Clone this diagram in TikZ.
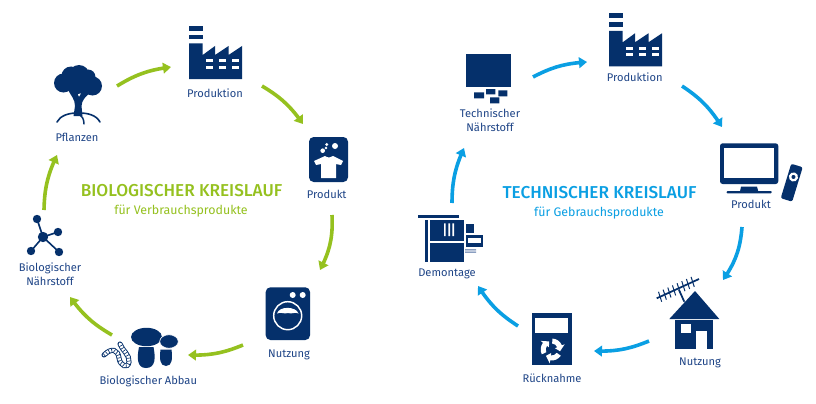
\documentclass[tikz,border=0pt]{standalone}
\usepackage{fontspec}
\usetikzlibrary{arrows.meta,bending,calc}
\setmainfont{Fira Sans}
\newfontfamily\medfont{Fira Sans Medium}
\definecolor{navy}{HTML}{05306B}
\definecolor{lab}{HTML}{1F4587}
\definecolor{grn}{HTML}{95C11F}
\definecolor{cyn}{HTML}{0A9FE3}
\tikzset{
  lbl/.style={font=\fontsize{8.35}{10.6}\selectfont,text=lab,align=center,inner sep=0pt},
  ttl/.style={font=\medfont\fontsize{12.9}{15}\selectfont,inner sep=0pt},
  sub/.style={font=\fontsize{9.3}{11}\selectfont,inner sep=0pt},
  flow/.style={line width=2.7pt,-{Triangle[length=6pt,width=8pt,flex]}},
  grnflow/.style={flow,draw=grn},
  cynflow/.style={flow,draw=cyn},
  factory/.pic={
    \fill[navy] (0,0) rectangle (14,4.7);
    \fill[navy] (0,9) rectangle (14,13.3);
    \fill[navy] (0,17.5) -- (13.7,17.5) -- (13.7,29) -- (26,20) -- (26,29) -- (39.5,20) -- (39.5,29) -- (53,20) -- (53,53) -- (0,53) -- cycle;
    \foreach \c in {16.7,30,43.3}{
      \fill[white] (\c,33.3) rectangle ++(7,3);
      \fill[white] (\c,40) rectangle ++(7,3);
    }
  }
}
\begin{document}
\begin{tikzpicture}[x=.75pt,y=-.75pt]
\useasboundingbox[fill=white] (0,0) rectangle (816,403);

% ---------- left cycle: icons
\path pic at (189,26) {factory};
% tree
\fill[navy] (63.5,83) circle[radius=9.5] (71,76) circle[radius=9.5] (79,75.5) circle[radius=10.5]
  (88,77) circle[radius=7.5] (92.5,86) circle[radius=9.5] (78,83) circle[radius=11];
\fill[navy] (67,88) .. controls (71,96) and (75,99) .. (75,106) -- (73.5,116) -- (82.5,116) -- (81.5,106) .. controls (82,100) and (85,97) .. (91,92) -- (83,90) -- (79,97) -- (75,88) -- cycle;
\draw[navy,line width=1.2pt,line cap=round] (77,113) .. controls (68,113) and (60,116) .. (57,122);
\draw[navy,line width=1.2pt,line cap=round] (79,113) .. controls (88,113) and (96,115) .. (100,122);
\draw[navy,line width=1.1pt,line cap=round] (79,114) .. controls (82,116) and (84,119) .. (84,124);
% shirt icon
\fill[navy,rounded corners=3.5pt] (309,137) rectangle (348,182);
\fill[white] (314,161) -- (325,156) .. controls (328,158) and (331,158) .. (333,156) -- (343,161) -- (341,165) -- (336,164) -- (336,178) -- (321,178) -- (321,164) -- (316,165) -- cycle;
\fill[white] (335,146) circle[radius=3] (326.7,144.5) circle[radius=1.7] (322.7,150.7) circle[radius=2.3] (326,148) circle[radius=1.3];
% washing machine
\fill[navy,rounded corners=3.5pt] (265.7,287.3) rectangle (310,340);
\fill[white] (292.7,295) circle[radius=3] (302.7,295) circle[radius=3];
\draw[white,line width=1.1pt] (287.7,315.7) circle[radius=14];
\fill[white] (277,313.5) .. controls (279,306) and (296,306) .. (298.5,313.5) .. controls (295,311.5) and (292,314.5) .. (288,313) .. controls (284,314.5) and (281,311.5) .. (277,313.5) -- cycle;
% mushrooms
\fill[navy] (146.5,337) ellipse[x radius=15.5,y radius=9.2];
\fill[navy] (139,347) -- (153.5,347) .. controls (155.5,357) and (156,368) .. (146,368) .. controls (136.5,368) and (137,357) .. (139,347) -- cycle;
\fill[navy,draw=white,line width=.5pt] (169,341.5) ellipse[x radius=9.3,y radius=6.8];
\fill[navy] (160.5,349.5) -- (171.5,349.5) .. controls (172.5,358) and (172.5,366) .. (166,366) .. controls (159.5,366) and (159.5,358) .. (160.5,349.5) -- cycle;
% worm
\def\wormpath{(104,355) .. controls (112,347) and (118,350) .. (119,358) .. controls (120,366) and (128,369) .. (129,362) .. controls (130,355) and (122,350) .. (120,344)}
\draw[navy,line width=3.8pt,line cap=round] \wormpath;
\draw[white,line width=2.4pt,line cap=round] \wormpath;
\draw[navy,line width=2.6pt,dash pattern=on .5pt off 1.7pt] \wormpath;
% molecule
\draw[navy,line width=1.2pt] (37,219) -- (43,237) -- (58,232) (31,251) -- (43,237) -- (59,252);
\fill[navy] (43,237) circle[radius=5.2] (37,219) circle[radius=4.2] (58,232) circle[radius=4.2] (31,251) circle[radius=4.2] (59,252) circle[radius=4.2];

% ---------- left cycle: labels
\node[lbl] (lprod) at (215,93) {Produktion};
\node[lbl] (lpfl) at (77,137) {Pflanzen};
\node[lbl] (lprd) at (326.7,194.3) {Produkt};
\node[lbl] (lnut) at (289,355) {Nutzung};
\node[lbl] (labb) at (148.3,381.7) {Biologischer Abbau};
\node[lbl] (lnae) at (50,274.5) {Biologischer\\Nährstoff};
\node[ttl,text=grn] (ltitle) at (181.5,191) {BIOLOGISCHER KREISLAUF};
\node[sub,text=grn] (lsub) at (181,211.5) {für Verbrauchsprodukte};

% ---------- left cycle: connectors
\coordinate (g1a) at (117,86);  \coordinate (g1b) at (171,67);
\coordinate (g2a) at (262,86);  \coordinate (g2b) at (303,124);
\coordinate (g3a) at (332,215); \coordinate (g3b) at (320,270);
\coordinate (g4a) at (243,345); \coordinate (g4b) at (188,355);
\coordinate (g5a) at (112,335); \coordinate (g5b) at (70,297);
\coordinate (g6a) at (44,210);  \coordinate (g6b) at (57,155);
\draw[grnflow] (g1a) to[bend left=12] (g1b);
\draw[grnflow] (g2a) to[bend left=12] (g2b);
\draw[grnflow] (g3a) to[bend left=15] (g3b);
\draw[grnflow] (g4a) to[bend left=12] (g4b);
\draw[grnflow] (g5a) to[bend left=12] (g5b);
\draw[grnflow] (g6a) to[bend left=12] (g6b);

% ---------- right cycle: icons
\path pic at (609,13.3) {factory};
% raw material block
\fill[navy] (466,54) rectangle (511,87.3);
\fill[navy] (474,92.3) rectangle (484,98.3) (486,89) rectangle (495.3,94.3) (498.3,90.3) rectangle (507.3,96.3) (490,97.3) rectangle (499.3,103.3);
% TV
\fill[navy,rounded corners=2pt] (720,143.3) rectangle (778.3,184);
\fill[white] (724,147.7) rectangle (774.3,178.3);
\fill[navy] (741,186.7) -- (757,186.7) -- (758.3,191.5) -- (740,191.5) -- cycle;
\fill[navy,rounded corners=.6pt] (726.7,191) rectangle (771.7,193.3);
\begin{scope}[shift={(791.7,182.7)},rotate=-17]
  \fill[navy,rounded corners=1.5pt] (-6,-18) rectangle (6,18);
  \fill[white] (0,-6) circle[radius=4.6];
  \fill[navy] (0,-6) circle[radius=2];
\end{scope}
% house
\fill[navy] (695,291) -- (719.3,319) -- (669.3,319) -- cycle;
\fill[navy] (675.3,320.3) rectangle (713.3,349.3);
\fill[white] (681,324.3) rectangle (691.3,333.3);
\fill[white] (696.3,331.3) rectangle (707.3,349.3);
\draw[navy,line width=1.3pt] (656.7,298.3) -- (699,279);
\draw[navy,line width=1.3pt] (684.3,301.7) -- (679,290);
\foreach \t in {.08,.19,.30,.41,.52,.63,.74,.85}{
  \draw[navy,line width=.75pt] ($(656.7,298.3)!\t!(699,279)+(-1.6,-5)$) -- ($(656.7,298.3)!\t!(699,279)+(1.6,5)$);
}
% return box
\fill[navy] (532.3,313.3) rectangle (572.3,365.3);
\fill[white] (535,318.3) rectangle (568.3,333.3);
\begin{scope}[shift={(551.7,349.5)}]
  \foreach \a in {30,150,270}{
    \fill[white] (\a+4:6) -- (\a+4:11) arc[start angle=\a+4,end angle=\a+68,radius=11] -- (\a+68:14) -- (\a+102:8.5) -- (\a+68:3.5) -- (\a+68:6) arc[start angle=\a+68,end angle=\a+4,radius=6] -- cycle;
  }
\end{scope}
% dismantling machine
\fill[navy] (418.3,215) rectangle (459,218.3);
\fill[navy] (425,220) rectangle (428.3,262.3);
\fill[navy] (430,220) rectangle (464.3,241);
\fill[navy] (430,243.3) rectangle (464.3,262.3);
\fill[white] (444,223.3) rectangle (445.7,236) (448.3,223.3) rectangle (450,236) (452.3,223.3) rectangle (454,236);
\fill[navy] (466,224.3) rectangle (474,233.3);
\fill[navy] (465.7,235) rectangle (483.3,246.7);
\fill[white] (468.3,238.3) rectangle (480.7,243.3);
\fill[lab!80] (465,249.3) rectangle (476,250.3) (465,251.6) rectangle (476,252.6);

% ---------- right cycle: labels
\node[lbl] (rprod) at (634.7,77) {Produktion};
\node[lbl] (rnae) at (490,120) {Technischer\\Nährstoff};
\node[lbl] (rprd) at (751,204) {Produkt};
\node[lbl] (rnut) at (700,362.7) {Nutzung};
\node[lbl] (rruc) at (552,378.5) {Rücknahme};
\node[lbl] (rdem) at (447,273.5) {Demontage};
\node[ttl,text=cyn] (rtitle) at (599.5,193) {TECHNISCHER KREISLAUF};
\node[sub,text=cyn] (rsub) at (599,213) {für Gebrauchsprodukte};

% ---------- right cycle: connectors
\coordinate (c1a) at (533,77);  \coordinate (c1b) at (587,62);
\coordinate (c2a) at (682,86);  \coordinate (c2b) at (722,127);
\coordinate (c3a) at (742,227); \coordinate (c3b) at (723,280);
\coordinate (c4a) at (649,341); \coordinate (c4b) at (594,351);
\coordinate (c5a) at (518,326); \coordinate (c5b) at (478,286);
\coordinate (c6a) at (452,203); \coordinate (c6b) at (464,148);
\draw[cynflow] (c1a) to[bend left=12] (c1b);
\draw[cynflow] (c2a) to[bend left=12] (c2b);
\draw[cynflow] (c3a) to[bend left=15] (c3b);
\draw[cynflow] (c4a) to[bend left=12] (c4b);
\draw[cynflow] (c5a) to[bend left=12] (c5b);
\draw[cynflow] (c6a) to[bend left=12] (c6b);
\end{tikzpicture}
\end{document}
